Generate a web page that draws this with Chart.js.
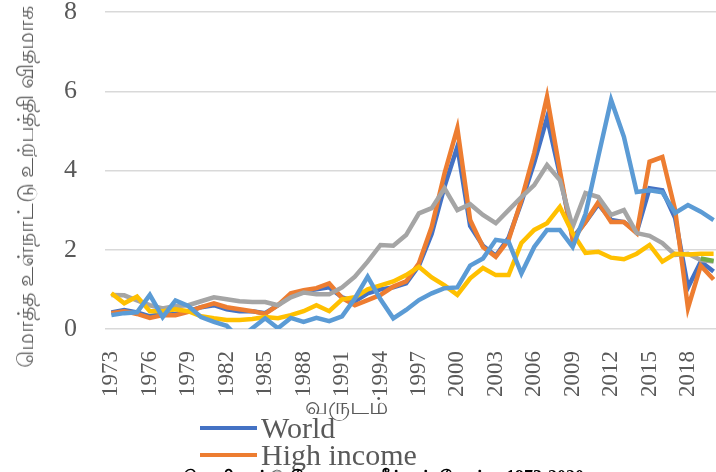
<!DOCTYPE html>
<html>
<head>
<meta charset="utf-8">
<script src="https://cdn.jsdelivr.net/npm/chart.js@4.4.0/dist/chart.umd.min.js"></script>
<style>
  html, body { margin: 0; padding: 0; background: #fff; width: 716px; height: 472px; overflow: hidden; }
  #wrap { position: absolute; left: 0; top: 0; width: 740px; height: 400px; }
  .ytitle { position: absolute; left: 27px; top: 187px; transform: translate(-50%, -50%) rotate(-90deg);
    white-space: nowrap; font-size: 22px; color: #595959; }
  .xtitle { position: absolute; left: 346px; top: 408px; transform: translate(-50%, -50%);
    white-space: nowrap; font-size: 24px; color: #595959; }
  #legend { position: absolute; left: 200px; top: 414px; }
  .item { height: 27px; display: flex; align-items: center; white-space: nowrap; }
  .item span.swatch { display: inline-block; width: 57px; height: 4px; margin-right: 4px; }
  .item span.txt { font-family: 'Liberation Serif', 'Times New Roman', serif; font-size: 30px; line-height: 27px; color: #595959; }
  .caption { position: absolute; left: 183px; top: 467px; white-space: nowrap; font-weight: bold;
    font-size: 18px; color: #000; }
</style>
</head>
<body>
<div id="wrap"><canvas id="chart" width="740" height="400"></canvas></div>
<div class="ytitle">மொத்த உள்நாட்டு உற்பத்தி விதமாக</div>
<div class="xtitle">வருடம்</div>
<div id="legend"></div>
<div class="caption">வெளிநாட்டு நேரடி முதலீட்டின் போக்கு 1973-2020</div>
<script>
// years 1973 - 2020
const years = ['1973','1974','1975','1976','1977','1978','1979','1980','1981','1982',
  '1983','1984','1985','1986','1987','1988','1989','1990','1991','1992',
  '1993','1994','1995','1996','1997','1998','1999','2000','2001','2002',
  '2003','2004','2005','2006','2007','2008','2009','2010','2011','2012',
  '2013','2014','2015','2016','2017','2018','2019','2020'];

const world = [0.42,0.48,0.42,0.32,0.38,0.38,0.45,0.55,0.6,0.5,
  0.45,0.45,0.4,0.6,0.85,0.95,1.0,1.05,0.8,0.7,
  0.9,1.0,1.05,1.15,1.6,2.4,3.6,4.6,2.6,2.1,
  1.85,2.3,3.2,4.2,5.33,3.9,2.3,2.7,3.15,2.75,
  2.7,2.45,3.55,3.5,2.8,1.05,1.7,1.45];

const highIncome = [0.4,0.45,0.38,0.28,0.35,0.35,0.43,0.55,0.65,0.55,
  0.5,0.45,0.38,0.6,0.9,0.98,1.03,1.15,0.78,0.6,
  0.73,0.86,1.07,1.2,1.66,2.58,3.93,5.07,2.75,2.07,
  1.82,2.25,3.26,4.44,5.86,4.0,2.25,2.7,3.2,2.7,
  2.7,2.42,4.22,4.34,3.0,0.53,1.6,1.25];

const middleIncome = [0.86,0.85,0.72,0.6,0.52,0.58,0.6,0.7,0.8,0.75,
  0.7,0.68,0.68,0.6,0.8,0.92,0.88,0.88,1.05,1.32,
  1.7,2.12,2.1,2.37,2.92,3.05,3.55,3.0,3.15,2.88,
  2.67,3.0,3.33,3.63,4.14,3.76,2.58,3.43,3.33,2.88,
  3.0,2.42,2.35,2.17,1.87,1.9,1.74,1.7];

const lowIncome = [0.9,0.65,0.82,0.45,0.45,0.5,0.45,0.32,0.27,0.23,
  0.23,0.25,0.3,0.27,0.35,0.45,0.6,0.45,0.75,0.8,
  1.0,1.1,1.2,1.36,1.57,1.3,1.1,0.86,1.28,1.54,
  1.36,1.36,2.17,2.5,2.67,3.08,2.42,1.92,1.95,1.8,
  1.76,1.9,2.12,1.7,1.9,1.88,1.9,1.9];

const lowerMiddle = [0.35,0.4,0.42,0.86,0.3,0.72,0.58,0.3,0.18,0.08,
  -0.25,0.02,0.27,0.02,0.28,0.18,0.28,0.2,0.32,0.77,
  1.32,0.75,0.27,0.48,0.73,0.9,1.03,1.05,1.6,1.78,
  2.25,2.2,1.4,2.07,2.5,2.5,2.07,2.9,4.35,5.78,
  4.85,3.46,3.5,3.45,2.93,3.13,2.96,2.75];

// only the last two years show
const upperMiddle = [null,null,null,null,null,null,null,null,null,null,
  null,null,null,null,null,null,null,null,null,null,
  null,null,null,null,null,null,null,null,null,null,
  null,null,null,null,null,null,null,null,null,null,
  null,null,null,null,null,null,1.78,1.72];

const yTicks = [0, 2, 4, 6, 8];

const series = [
  { label: 'World', data: world, color: '#4472C4' },
  { label: 'High income', data: highIncome, color: '#ED7D31' },
  { label: 'Middle income', data: middleIncome, color: '#A5A5A5' },
  { label: 'Low income', data: lowIncome, color: '#FFC000' },
  { label: 'Lower middle income', data: lowerMiddle, color: '#5B9BD5' },
  { label: 'Upper middle income', data: upperMiddle, color: '#70AD47' }
];

const serif = "'Liberation Serif', 'Times New Roman', serif";

const ctx = document.getElementById('chart').getContext('2d');
const chart = new Chart(ctx, {
  type: 'line',
  data: {
    labels: years,
    // chart.js draws the first dataset on top, excel the last one -> reverse
    datasets: series.map(s => ({
      label: s.label,
      data: s.data,
      borderColor: s.color,
      backgroundColor: s.color,
      borderWidth: 4.5,
      pointRadius: 0,
      tension: 0
    })).reverse()
  },
  options: {
    responsive: false,
    animation: false,
    layout: { padding: { top: 12, right: 20, left: 0, bottom: 0 } },
    plugins: { legend: { display: false }, tooltip: { enabled: false } },
    scales: {
      x: {
        offset: true,
        grid: { display: false, drawTicks: false },
        border: { display: false },
        ticks: {
          autoSkip: false,
          maxRotation: 90,
          minRotation: 90,
          padding: 22,
          color: '#595959',
          font: { family: serif, size: 23, lineHeight: 0.8 },
          callback: function (v, i) { return i % 3 === 0 ? years[i] : ''; }
        },
        afterFit: s => { s.height = 71; s.paddingLeft = 0; s.paddingRight = 0; }
      },
      y: {
        min: 0,
        max: 8,
        afterBuildTicks: s => { s.ticks = yTicks.map(v => ({ value: v })); },
        grid: { color: '#D9D9D9', lineWidth: 1.5, drawTicks: false },
        border: { display: false },
        ticks: {
          padding: 28,
          color: '#595959',
          font: { family: serif, size: 26, lineHeight: 0.8 }
        },
        afterFit: s => { s.width = 105; s.paddingTop = 0; s.paddingBottom = 0; }
      }
    }
  }
});

// legend below the chart, one entry per row
const legend = document.getElementById('legend');
series.forEach(s => {
  const row = document.createElement('div');
  row.className = 'item';
  row.innerHTML = '<span class="swatch" style="background:' + s.color + '"></span><span class="txt">' + s.label + '</span>';
  legend.appendChild(row);
});
</script>
</body>
</html>
